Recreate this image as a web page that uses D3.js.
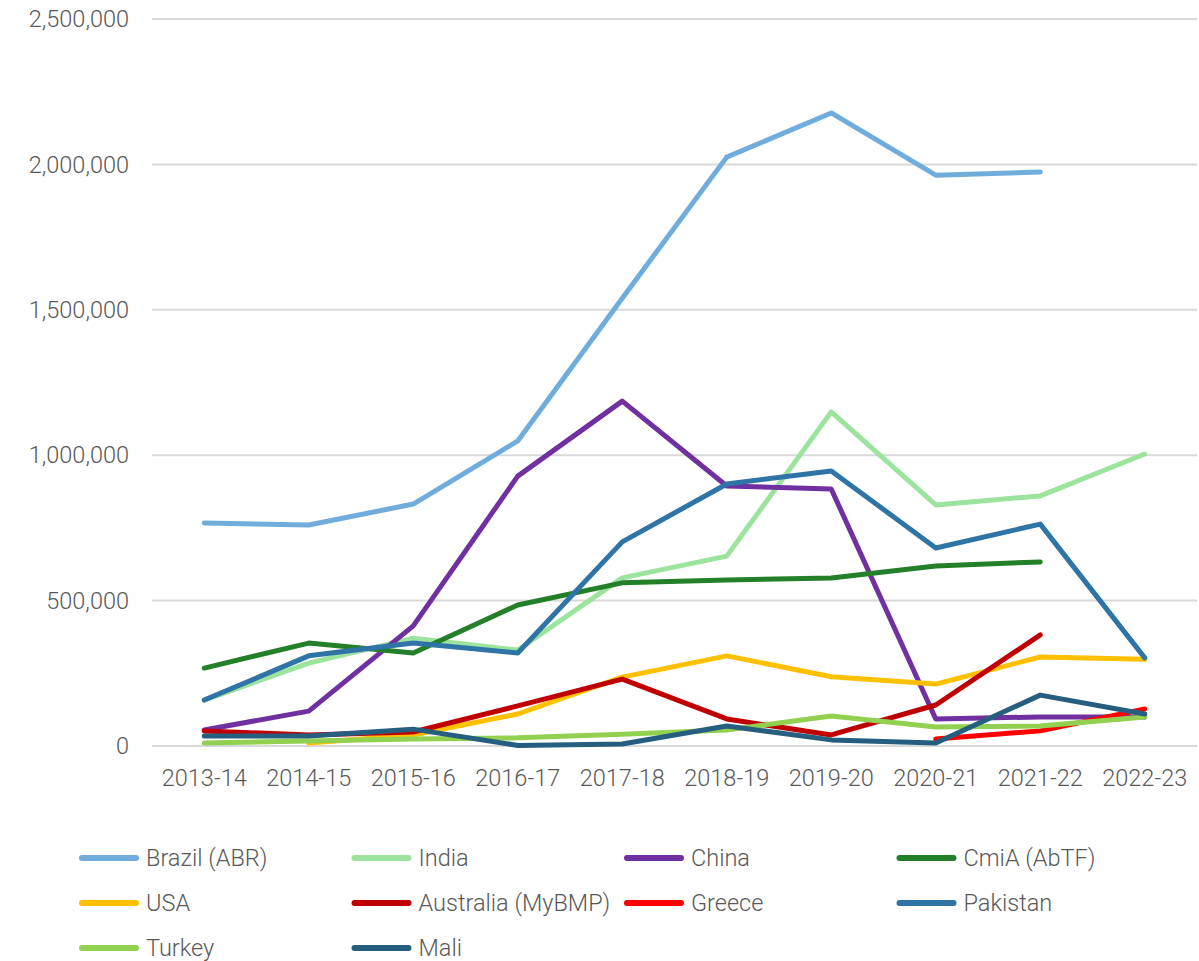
<!DOCTYPE html>
<html>
<head>
<meta charset="utf-8">
<script src="https://cdn.jsdelivr.net/npm/d3@7"></script>
<style>
  body { margin: 0; background: #fff; }
  svg text { font-family: Roboto, "Noto Sans", sans-serif; font-weight: 300; fill: #595959; }
</style>
</head>
<body>
<svg id="chart" width="1199" height="961"></svg>
<script>
const seasons = ["2013-14", "2014-15", "2015-16", "2016-17", "2017-18", "2018-19", "2019-20", "2020-21", "2021-22", "2022-23"];

const brazil    = [767000, 760000, 832000, 1049000, 1540000, 2025000, 2177000, 1963000, 1974000, null];
const india     = [158000, 285000, 371000, 330000, 578000, 653000, 1149000, 829000, 860000, 1004000];
const china     = [55000, 120000, 413000, 928000, 1186000, 894000, 884000, 93000, 100000, 100000];
const cmia      = [268000, 354000, 320000, 485000, 561000, 571000, 578000, 619000, 633000, null];
const usa       = [null, 10000, 38000, 110000, 237000, 310000, 238000, 213000, 306000, 298000];
const australia = [52000, 38000, 48000, 138000, 230000, 93000, 38000, 141000, 382000, null];
const greece    = [null, null, null, null, null, null, null, 24000, 52000, 127000];
const pakistan  = [158000, 310000, 354000, 320000, 702000, 901000, 946000, 681000, 763000, 303000];
const turkey    = [10000, 17000, 24000, 28000, 40000, 55000, 103000, 65000, 69000, 100000];
const mali      = [34000, 34000, 58000, 2000, 7000, 69000, 21000, 10000, 175000, 110000];

const seriesNames  = ["Brazil (ABR)", "India", "China", "CmiA (AbTF)", "USA", "Australia (MyBMP)", "Greece", "Pakistan", "Turkey", "Mali"];
const seriesValues = [brazil, india, china, cmia, usa, australia, greece, pakistan, turkey, mali];
const seriesColors = ["#70ADDC", "#9CE39E", "#7030A0", "#238028", "#FFC000", "#C00000", "#FF0000", "#2E74A6", "#92D050", "#255E7E"];
const yTicks = [0, 500000, 1000000, 1500000, 2000000, 2500000];

const svg = d3.select("#chart");

let x = d3.scalePoint()
    .domain(seasons)
    .range([152, 1197])
    .padding(0.5);

let y = d3.scaleLinear()
    .domain([0, 2500000])
    .range([746, 19]);

// gridlines
svg.append("g")
    .selectAll("line")
    .data(yTicks).enter()
    .append("line")
    .attr("x1", 152)
    .attr("x2", 1197)
    .attr("y1", d => y(d))
    .attr("y2", d => y(d))
    .attr("stroke", "#d9d9d9")
    .attr("stroke-width", 2);

// y labels
let fmt = d3.format(",");
svg.append("g")
    .selectAll("text")
    .data(yTicks).enter()
    .append("text")
    .attr("x", 129)
    .attr("y", d => y(d))
    .attr("dy", "0.35em")
    .attr("text-anchor", "end")
    .attr("font-size", 23.5)
    .text(d => fmt(d));

// x labels
svg.append("g")
    .selectAll("text")
    .data(seasons).enter()
    .append("text")
    .attr("x", d => x(d))
    .attr("y", 778)
    .attr("dy", "0.35em")
    .attr("text-anchor", "middle")
    .attr("font-size", 23.5)
    .text(d => d);

// lines
let line = d3.line()
    .defined(d => d.value !== null)
    .x(d => x(d.season))
    .y(d => y(d.value));

let series = seriesNames.map((name, i) => ({
    name: name,
    color: seriesColors[i],
    points: seasons.map((s, j) => ({ season: s, value: seriesValues[i][j] }))
}));

svg.append("g")
    .selectAll("path")
    .data(series).enter()
    .append("path")
    .attr("d", d => line(d.points))
    .attr("fill", "none")
    .attr("stroke", d => d.color)
    .attr("stroke-width", 5)
    .attr("stroke-linejoin", "round")
    .attr("stroke-linecap", "round");

// legend
let legend = svg.append("g")
    .selectAll("g")
    .data(series).enter()
    .append("g")
    .attr("transform", (d, i) => "translate(" + (82 + (i % 4) * 272.5) + "," + (858 + Math.floor(i / 4) * 45) + ")");

legend.append("line")
    .attr("x1", 0)
    .attr("x2", 54)
    .attr("stroke", d => d.color)
    .attr("stroke-width", 6)
    .attr("stroke-linecap", "round");

legend.append("text")
    .attr("x", 64)
    .attr("dy", "0.35em")
    .attr("font-size", 23.5)
    .text(d => d.name);
</script>
</body>
</html>
